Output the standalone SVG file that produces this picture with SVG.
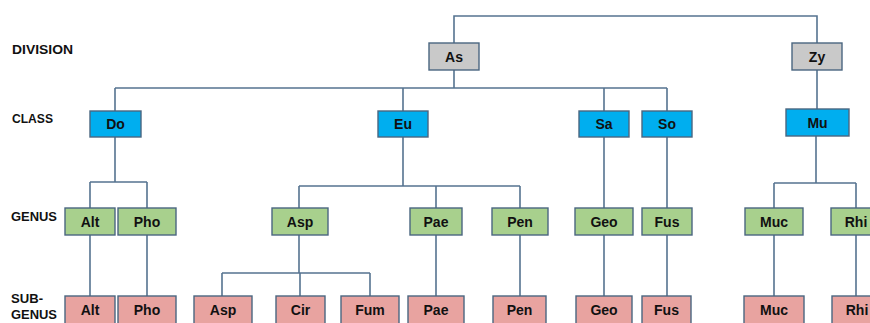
<svg xmlns="http://www.w3.org/2000/svg" width="870" height="323" viewBox="0 0 870 323">
<style>
  .c { fill: none; stroke: #557390; stroke-width: 1.6; }
  .b { stroke: #4a6680; stroke-width: 1.4; }
  .div { fill: #c9c9c9; }
  .cls { fill: #00aeef; }
  .gen { fill: #a8d08d; }
  .sub { fill: #e8a3a0; }
  .t { font-family: "Liberation Sans", Arial, sans-serif; font-weight: bold; font-size: 14px; fill: #111; text-anchor: middle; }
  .lbl { font-family: "Liberation Sans", Arial, sans-serif; font-weight: bold; font-size: 12.5px; fill: #111; }
</style>
<rect width="870" height="323" fill="#ffffff"/>
<g id="labels">
  <text class="lbl" x="12" y="54" textLength="61" lengthAdjust="spacingAndGlyphs">DIVISION</text>
  <text class="lbl" x="12" y="123" textLength="41" lengthAdjust="spacingAndGlyphs">CLASS</text>
  <text class="lbl" x="11" y="221" textLength="46" lengthAdjust="spacingAndGlyphs">GENUS</text>
  <text class="lbl" x="11" y="303" textLength="32" lengthAdjust="spacingAndGlyphs">SUB-</text>
  <text class="lbl" x="11" y="319" textLength="46" lengthAdjust="spacingAndGlyphs">GENUS</text>
</g>
<g id="connectors">
  <path class="c" d="M454 43 V16 H817 V43"/>
  <path class="c" d="M454 70 V88 M115 88 H667 M115 88 V111 M403 88 V111 M604 88 V111 M667 88 V111"/>
  <path class="c" d="M817 70 V109"/>
  <path class="c" d="M115 137 V182 M90 182 H147 M90 182 V208 M147 182 V208"/>
  <path class="c" d="M403 137 V186 M299 186 H520 M299 186 V208 M436 186 V208 M520 186 V208"/>
  <path class="c" d="M604 137 V208 M667 137 V208"/>
  <path class="c" d="M816 136 V183 M774 183 H856 M774 183 V208 M856 183 V208"/>
  <path class="c" d="M90 235 V296 M147 235 V296"/>
  <path class="c" d="M299 235 V273 M222 273 H370 M222 273 V296 M300 273 V296 M370 273 V296"/>
  <path class="c" d="M436 235 V296 M520 235 V296 M604 235 V296 M667 235 V296 M774 235 V296 M856 235 V296"/>
</g>
<g id="node-As"><rect class="b div" x="429" y="43" width="50" height="27"/><text class="t" x="454" y="61.5">As</text></g>
<g id="node-Zy"><rect class="b div" x="792" y="43" width="50" height="27"/><text class="t" x="817" y="61.5">Zy</text></g>
<g id="node-Do"><rect class="b cls" x="90" y="111" width="51" height="26"/><text class="t" x="115.5" y="129">Do</text></g>
<g id="node-Eu"><rect class="b cls" x="378" y="111" width="50" height="26"/><text class="t" x="403" y="129">Eu</text></g>
<g id="node-Sa"><rect class="b cls" x="579" y="111" width="50" height="26"/><text class="t" x="604" y="129">Sa</text></g>
<g id="node-So"><rect class="b cls" x="642" y="111" width="50" height="26"/><text class="t" x="667" y="129">So</text></g>
<g id="node-Mu"><rect class="b cls" x="786" y="109" width="63" height="27"/><text class="t" x="817.5" y="127.5">Mu</text></g>
<g id="node-Alt-g"><rect class="b gen" x="65" y="208" width="50" height="27"/><text class="t" x="90" y="226.5">Alt</text></g>
<g id="node-Pho-g"><rect class="b gen" x="118" y="208" width="58" height="27"/><text class="t" x="147" y="226.5">Pho</text></g>
<g id="node-Asp-g"><rect class="b gen" x="272" y="208" width="56" height="27"/><text class="t" x="300" y="226.5">Asp</text></g>
<g id="node-Pae-g"><rect class="b gen" x="410" y="208" width="52" height="27"/><text class="t" x="436" y="226.5">Pae</text></g>
<g id="node-Pen-g"><rect class="b gen" x="492" y="208" width="56" height="27"/><text class="t" x="520" y="226.5">Pen</text></g>
<g id="node-Geo-g"><rect class="b gen" x="575" y="208" width="58" height="27"/><text class="t" x="604" y="226.5">Geo</text></g>
<g id="node-Fus-g"><rect class="b gen" x="642" y="208" width="50" height="27"/><text class="t" x="667" y="226.5">Fus</text></g>
<g id="node-Muc-g"><rect class="b gen" x="745" y="208" width="58" height="27"/><text class="t" x="774" y="226.5">Muc</text></g>
<g id="node-Rhi-g"><rect class="b gen" x="831" y="208" width="52" height="27"/><text class="t" x="856" y="226.5">Rhi</text></g>
<g id="node-Alt-s"><rect class="b sub" x="65" y="296" width="50" height="30"/><text class="t" x="90" y="315">Alt</text></g>
<g id="node-Pho-s"><rect class="b sub" x="118" y="296" width="58" height="30"/><text class="t" x="147" y="315">Pho</text></g>
<g id="node-Asp-s"><rect class="b sub" x="194" y="296" width="58" height="30"/><text class="t" x="223" y="315">Asp</text></g>
<g id="node-Cir-s"><rect class="b sub" x="276" y="296" width="49" height="30"/><text class="t" x="300.5" y="315">Cir</text></g>
<g id="node-Fum-s"><rect class="b sub" x="341" y="296" width="58" height="30"/><text class="t" x="370" y="315">Fum</text></g>
<g id="node-Pae-s"><rect class="b sub" x="408" y="296" width="56" height="30"/><text class="t" x="436" y="315">Pae</text></g>
<g id="node-Pen-s"><rect class="b sub" x="493" y="296" width="53" height="30"/><text class="t" x="519.5" y="315">Pen</text></g>
<g id="node-Geo-s"><rect class="b sub" x="576" y="296" width="56" height="30"/><text class="t" x="604" y="315">Geo</text></g>
<g id="node-Fus-s"><rect class="b sub" x="642" y="296" width="49" height="30"/><text class="t" x="666.5" y="315">Fus</text></g>
<g id="node-Muc-s"><rect class="b sub" x="744" y="296" width="60" height="30"/><text class="t" x="774" y="315">Muc</text></g>
<g id="node-Rhi-s"><rect class="b sub" x="832" y="296" width="50" height="30"/><text class="t" x="857" y="315">Rhi</text></g>
</svg>
